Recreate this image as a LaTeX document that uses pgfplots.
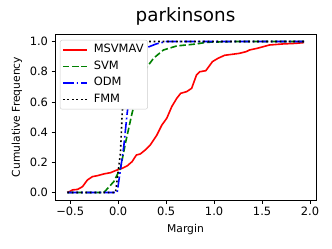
\documentclass[border=0pt]{standalone}
\usepackage{fontspec}
\setmainfont{DejaVu Sans}
\usepackage{pgfplots}
\pgfplotsset{compat=1.18}
\definecolor{mplgreen}{RGB}{0,128,0}
\begin{document}
\begin{tikzpicture}
\useasboundingbox (-55bp,-49bp) rectangle (277bp,200bp);
\begin{axis}[
  at={(0,0)}, anchor=south west,
  scale only axis, width=261bp, height=166bp,
  xmin=-0.658, xmax=2.062, ymin=-0.05, ymax=1.05,
  axis line style={line width=0.7bp},
  tick align=outside, tick pos=left,
  major tick length=3.5bp,
  every tick/.style={black, line width=0.7bp},
  xtick={-0.5,0,0.5,1,1.5,2},
  xticklabels={−0.5,0.0,0.5,1.0,1.5,2.0},
  ytick={0,0.2,0.4,0.6,0.8,1},
  yticklabels={0.0,0.2,0.4,0.6,0.8,1.0},
  tick label style={font=\fontsize{11.5}{13}\selectfont},
  label style={font=\fontsize{10.8}{12}\selectfont},
  xlabel={Margin},
  ylabel={Cumulative Frequency},
  xlabel style={at={(axis description cs:0.5,-0.193)}, anchor=base},
  ylabel style={at={(axis description cs:-0.135,0.5)}, anchor=base},
  title={parkinsons},
  title style={at={(axis description cs:0.5,1.038)}, anchor=base, font=\fontsize{18.4}{20}\selectfont},
  legend cell align=left,
  legend image code/.code={\draw[mark repeat=2,mark phase=2,#1] plot coordinates {(0bp,0bp) (12bp,0bp) (24bp,0bp)};},
  legend style={
    at={(axis description cs:0.019,0.964)}, anchor=north west,
    draw=black!20, rounded corners=2bp, fill=white,
    font=\fontsize{11.5}{13}\selectfont,
    inner xsep=2bp, inner ysep=1.5bp,
    nodes={text height=8.5bp, text depth=2.5bp, inner ysep=2.75bp},
    /tikz/every odd column/.append style={column sep=4bp},
  },
]
\addplot[red, line width=1.6bp] coordinates {
(-0.53,0) (-0.50,0.008) (-0.475,0.017) (-0.424,0.02) (-0.372,0.038) (-0.32,0.083)
(-0.268,0.105) (-0.217,0.111) (-0.148,0.123) (-0.079,0.131) (-0.027,0.145)
(0.042,0.16) (0.094,0.176) (0.145,0.204) (0.19,0.248) (0.231,0.255) (0.283,0.282)
(0.335,0.315) (0.404,0.381) (0.456,0.447) (0.507,0.492) (0.559,0.569) (0.611,0.624)
(0.652,0.657) (0.714,0.668) (0.766,0.69) (0.817,0.779) (0.852,0.8) (0.914,0.807)
(0.983,0.867) (1.041,0.889) (1.11,0.909) (1.196,0.916) (1.265,0.922) (1.334,0.933)
(1.369,0.944) (1.455,0.956) (1.576,0.977) (1.713,0.984) (1.85,0.988) (1.937,0.993)
};
\addlegendentry{MSVMAV}
\addplot[mplgreen, line width=1.6bp, dash pattern=on 6.4bp off 2.8bp] coordinates {
(-0.53,0) (-0.148,0) (-0.045,0.072) (0.024,0.16) (0.076,0.326) (0.145,0.525)
(0.2,0.66) (0.25,0.76) (0.3,0.83) (0.37,0.89) (0.472,0.944) (0.611,0.971)
(0.817,0.984) (0.921,0.995) (1.2,1.0) (1.937,1.0)
};
\addlegendentry{SVM}
\addplot[blue, line width=1.6bp, dash pattern=on 11bp off 2.8bp on 1.7bp off 2.8bp] coordinates {
(-0.53,0) (-0.01,0) (0.024,0.15) (0.058,0.30) (0.094,0.525) (0.13,0.7)
(0.2,0.88) (0.3,0.96) (0.4,0.985) (0.5,1.0) (1.937,1.0)
};
\addlegendentry{ODM}
\addplot[black, line width=1.6bp, dash pattern=on 1.7bp off 2.8bp] coordinates {
(-0.53,0) (-0.027,0) (0.024,0.26) (0.042,0.525) (0.08,0.8) (0.15,0.95)
(0.3,1.0) (1.937,1.0)
};
\addlegendentry{FMM}
\end{axis}
\end{tikzpicture}
\end{document}
